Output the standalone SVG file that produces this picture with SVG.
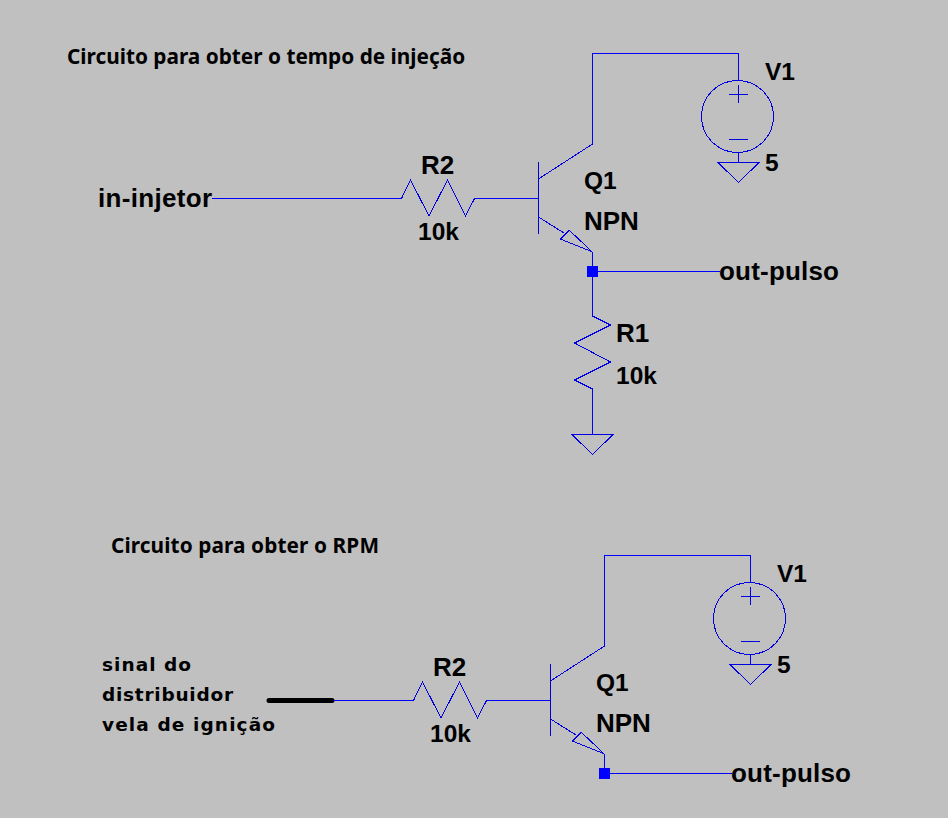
<svg xmlns="http://www.w3.org/2000/svg" xmlns:xlink="http://www.w3.org/1999/xlink" width="948" height="818" viewBox="0 0 948 818">
<style>
.w{fill:none;stroke:#0000ff;stroke-width:1;shape-rendering:crispEdges}
.s{fill:none;stroke:#0000e0;stroke-width:1;shape-rendering:crispEdges}
.l{font-family:"Liberation Sans",Arial,sans-serif;font-weight:700;font-size:26px;fill:#000}
.c{font-size:24.5px}
.t{font-family:"Noto Sans",sans-serif;font-weight:700;font-size:20.8px;fill:#000}
.m{font-family:"DejaVu Sans",sans-serif;font-weight:700;font-size:18.5px;fill:#000}
</style>
<defs>
<g id="gnd"><path class="s" d="M-20.500 0H20.500L0 20Z"/></g>
<g id="res"><path class="s" d="M0 0L9 -18.500L27.500 17.500L46 -18.500L64 17.500L73 0"/></g>
<g id="npn"><path class="s" d="M0 -36.500V35.500M0 -19.500L54 -54.500M0 18.500L25 34.200M53.500 53.200L21.800 40.500L30.800 31.800Z"/></g>
<g id="src"><circle class="s" cx="-1" cy="0.500" r="36"/><path class="s" d="M0 -31V-13M-9.500 -22H9.500M-9.500 23H9.500"/></g>
</defs>
<rect id="background" width="948" height="818" fill="#c0c0c0"/>
<g id="connectors">
<path class="w" d="M212 198.500H401.500M474.500 198.500H538.500M592.500 144V53.500H738.500V80M738.500 152V162.500M592.500 252V316M592.500 271.500H720M592.500 389V434.500"/>
<path d="M269 700.500H332" fill="none" stroke="#000" stroke-width="5" stroke-linecap="round"/>
<path class="w" d="M334 700.500H413.500M486.500 700.500H550.500M604.500 646V555.500H750.500V582M750.500 654V664.500M604.500 754V773.500H732"/>
</g>
<g id="V1-top"><use xlink:href="#src" x="738.500" y="116"/><use xlink:href="#gnd" x="738.500" y="162.500"/><text class="l c" x="765" y="80">V1</text><text class="l c" x="765" y="171">5</text></g>
<g id="Q1-top"><use xlink:href="#npn" x="538.500" y="198.500"/><text class="l c" x="584" y="189">Q1</text><text class="l" x="584" y="230">NPN</text></g>
<g id="R2-top"><use xlink:href="#res" x="401.500" y="198.500"/><text class="l" x="421" y="174">R2</text><text class="l c" x="418" y="240">10k</text></g>
<g id="R1-top"><path class="s" d="M592.500 316L610.500 325L574.500 343L610.500 362L574.500 380L592.500 389"/><text class="l" x="616" y="342">R1</text><text class="l c" x="616" y="384">10k</text><use xlink:href="#gnd" x="592.500" y="434.500"/></g>
<g id="junction-top"><rect x="587" y="266" width="11" height="11" fill="#0000ff"/></g>
<g id="in-injetor"><text class="l" x="98" y="207" textLength="114">in-injetor</text></g>
<g id="out-pulso-top"><text class="l" x="719" y="280" textLength="120">out-pulso</text></g>
<g id="V1-bottom"><use xlink:href="#src" x="750.500" y="618"/><use xlink:href="#gnd" x="750.500" y="664.500"/><text class="l c" x="777" y="582">V1</text><text class="l c" x="777" y="673">5</text></g>
<g id="Q1-bottom"><use xlink:href="#npn" x="550.500" y="700.500"/><text class="l c" x="596" y="691">Q1</text><text class="l" x="596" y="732">NPN</text></g>
<g id="R2-bottom"><use xlink:href="#res" x="413.500" y="700.500"/><text class="l" x="433" y="676">R2</text><text class="l c" x="430" y="742">10k</text></g>
<g id="junction-bottom"><rect x="599" y="768" width="11" height="11" fill="#0000ff"/></g>
<g id="out-pulso-bottom"><text class="l" x="731" y="782" textLength="120">out-pulso</text></g>
<g id="titles">
<text class="t" x="67" y="64">Circuito para obter o tempo de injeção</text>
<text class="t" x="111" y="553" textLength="268">Circuito para obter o RPM</text>
</g>
<g id="sinal-label">
<text class="m" x="102" y="671" textLength="89">sinal do</text>
<text class="m" x="102" y="701" textLength="131">distribuidor</text>
<text class="m" x="102" y="731" textLength="173">vela de ignição</text>
</g>
</svg>
